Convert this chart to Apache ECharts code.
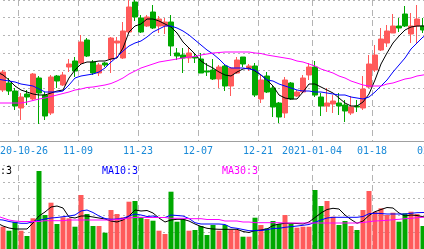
<!DOCTYPE html>
<html><head><meta charset="utf-8">
<script src="https://cdn.jsdelivr.net/npm/echarts/dist/echarts.min.js"></script>
<style>html,body{margin:0;padding:0;background:#fff;overflow:hidden;width:424px;height:249px;position:relative}
#c{position:absolute;left:-12px;top:0;width:450px;height:249px}</style>
</head><body><div id="c"></div><script>
const dates = [
'2020-10-19','2020-10-20','2020-10-21','2020-10-22','2020-10-23','2020-10-26','2020-10-27','2020-10-28','2020-10-29','2020-10-30',
'2020-11-02','2020-11-03','2020-11-04','2020-11-05','2020-11-06','2020-11-09','2020-11-10','2020-11-11','2020-11-12','2020-11-13',
'2020-11-16','2020-11-17','2020-11-18','2020-11-19','2020-11-20','2020-11-23','2020-11-24','2020-11-25','2020-11-26','2020-11-27','2020-11-30',
'2020-12-01','2020-12-02','2020-12-03','2020-12-04','2020-12-07','2020-12-08','2020-12-09','2020-12-10','2020-12-11',
'2020-12-14','2020-12-15','2020-12-16','2020-12-17','2020-12-18','2020-12-21','2020-12-22','2020-12-23','2020-12-24','2020-12-25',
'2020-12-28','2020-12-29','2020-12-30','2020-12-31',
'2021-01-04','2021-01-05','2021-01-06','2021-01-07','2021-01-08','2021-01-11','2021-01-12','2021-01-13','2021-01-14','2021-01-15',
'2021-01-18','2021-01-19','2021-01-20','2021-01-21','2021-01-22','2021-01-25','2021-01-26','2021-01-27','2021-01-28','2021-01-29',
'2021-02-01'];
const tickDates = ['2020-10-26','2020-11-09','2020-11-23','2020-12-07','2020-12-21','2021-01-04','2021-01-18','2021-02-01'];

const opens = [7.6,5.6,5.1,5.8,5.0,3.3,4.7,4.2,6.3,4.6,2.8,6.5,5.6,7.4,8.0,7.8,10.1,7.9,6.8,7.8,8.2,9.8,8.3,10.9,13.9,12.3,11.5,12.9,11.5,11.5,11.9,8.8,8.6,8.3,8.4,8.2,7.0,7.1,6.2,7.5,5.5,6.8,8.4,7.3,7.5,4.2,6.5,5.3,3.8,2.8,5.8,4.5,4.9,6.6,7.4,4.4,3.5,3.7,3.8,3.6,2.8,3.5,3.3,5.4,7.1,9.1,9.8,10.8,11.5,12.7,10.7,11.5,11.5,10.9,11.4];
const closes = [6.6,6.7,6.9,5.0,3.5,4.4,4.4,6.7,4.8,2.5,6.4,6.0,6.6,7.7,7.0,9.9,8.5,6.8,7.6,7.6,10.3,10.0,11.0,13.4,12.4,10.9,12.4,11.3,12.2,11.9,9.5,8.5,8.3,8.8,8.3,6.8,6.9,6.2,7.4,5.5,7.3,8.1,7.7,7.5,4.6,6.1,4.9,3.4,2.4,6.1,4.2,4.9,6.3,7.4,4.6,3.5,3.8,4.0,3.5,3.0,3.4,3.4,5.2,7.7,8.6,10.2,11.0,11.5,11.3,11.5,11.5,12.2,11.1,11.7,12.3];
const lows = [6.3,5.4,4.9,4.6,3.1,2.1,3.6,4.1,1.7,2.1,2.6,5.3,5.5,6.9,6.4,7.6,8.4,6.6,6.5,7.4,6.8,8.3,8.2,10.8,12.0,10.8,11.4,11.2,10.8,10.7,8.5,8.1,6.8,7.8,7.8,6.8,6.5,6.1,5.3,5.0,4.5,6.7,7.4,7.0,4.4,3.8,4.8,2.4,1.8,2.3,4.1,4.4,4.8,6.1,4.4,2.5,2.9,2.8,2.6,1.9,2.6,2.9,3.1,5.3,6.9,9.0,9.4,10.8,10.9,11.4,9.8,9.8,10.8,10.6,11.1];
const highs = [7.9,6.9,7.1,6.3,5.3,4.8,5.1,6.8,6.5,4.9,6.6,6.6,6.9,8.2,8.4,10.6,10.3,8.1,7.8,7.9,10.4,10.4,11.9,14.5,14.5,12.6,12.6,13.6,12.5,12.3,12.6,9.3,9.3,9.4,8.8,8.8,7.8,8.2,7.6,7.6,7.4,8.4,8.4,7.7,7.8,6.6,6.9,5.5,3.9,6.4,5.9,5.1,6.6,7.8,8.0,4.8,5.3,4.6,4.8,4.1,4.5,4.1,6.5,8.6,9.6,11.3,11.6,12.7,12.3,13.5,12.8,13.6,12.3,12.1,12.6];

const ma5 = [7.1,6.9,6.6,6.1,5.5,5.1,4.9,4.7,4.6,4.6,4.8,5.0,5.1,6.3,7.1,7.7,7.9,7.9,8.0,8.0,8.2,8.3,9.3,10.9,11.5,11.7,12.2,12.2,12.0,11.7,11.4,10.8,9.9,9.3,8.7,8.0,7.6,7.3,6.9,6.6,6.5,6.9,7.2,7.3,7.0,6.6,6.1,5.5,4.6,4.3,4.2,4.2,4.9,5.7,5.7,5.4,5.1,4.8,4.3,3.8,3.5,3.5,3.9,4.7,6.1,7.7,8.8,9.8,10.5,11.1,11.4,11.5,11.5,11.4,11.3];
const ma10 = [6.2,6.2,6.1,6.0,5.9,5.7,5.6,5.5,5.2,4.9,4.9,4.9,5.0,5.6,6.3,6.5,6.6,6.7,6.9,7.3,7.9,8.4,9.0,9.5,9.8,10.0,10.4,10.9,11.2,11.5,11.5,11.3,11.0,10.6,10.1,9.6,9.1,8.7,8.2,7.6,7.3,7.3,7.3,7.2,7.1,6.6,6.1,6.0,5.7,5.5,5.3,5.1,5.0,5.0,4.9,4.9,4.8,4.7,4.6,4.6,4.4,4.3,4.2,4.4,4.9,5.5,6.1,6.9,7.6,8.3,9.2,9.8,10.4,10.7,10.9];
const ma30 = [3.8,3.8,3.8,3.8,3.8,3.8,3.9,4.05,4.2,4.3,4.45,4.6,4.75,4.9,5.1,5.2,5.35,5.4,5.5,5.6,5.75,6.0,6.3,6.7,7.0,7.3,7.5,7.7,7.9,8.0,8.1,8.2,8.3,8.4,8.45,8.6,8.7,8.8,8.85,8.9,8.9,8.9,8.9,8.9,8.8,8.75,8.6,8.5,8.4,8.3,8.2,8.0,7.9,7.7,7.5,7.2,7.0,6.8,6.5,6.3,6.0,5.8,5.6,5.5,5.5,5.5,5.7,5.8,6.0,6.2,6.3,6.5,6.6,6.7,6.8];

const volumes = [290,270,223,183,273,183,130,307,780,340,463,250,317,307,223,540,350,230,230,163,390,350,317,473,480,317,300,283,183,150,573,273,297,183,190,230,140,240,183,240,190,190,123,123,313,240,207,280,250,340,250,213,223,223,590,430,480,323,240,280,230,190,390,580,373,407,340,363,273,357,373,350,230,290,340];
const volMa5 = [270,260,230,210,200,200,200,260,330,370,420,430,410,320,310,330,330,320,310,300,280,270,290,330,390,380,385,360,310,270,290,297,297,280,250,225,207,200,197,197,197,197,175,165,185,190,200,235,250,257,257,255,250,270,315,360,395,407,400,340,295,257,280,335,373,395,415,410,360,330,340,335,323,320,320];
const volMa10 = [300,295,290,275,265,257,257,273,287,300,310,315,323,330,340,380,390,365,330,305,297,300,307,330,350,340,325,330,315,315,340,335,330,305,263,250,250,250,250,245,215,207,195,183,183,185,193,205,207,217,223,230,237,245,267,290,310,317,317,317,317,317,325,353,357,355,350,350,350,350,357,363,365,365,365];
const volMa30 = [340,330,310,290,280,275,275,275,275,283,283,283,283,290,290,290,290,290,290,290,290,295,300,310,315,317,315,315,315,315,307,307,307,303,303,303,295,295,295,280,280,280,270,270,263,263,263,263,263,260,260,260,260,260,260,260,260,260,260,260,260,260,265,273,280,283,287,293,297,303,307,313,317,320,320];

const UP = '#ff5a5a', DOWN = '#00a800';
const isTick = (i, v) => tickDates.indexOf(v) >= 0;
function fmt(v) {
  const t = tickDates.indexOf(v);
  if (t < 0) return '';
  if (t === 0 || tickDates[t - 1].slice(0, 4) !== v.slice(0, 4)) return v;
  return v.slice(5);
}
const kData = dates.map((d, i) => [opens[i], closes[i], lows[i], highs[i]]);
const volData = volumes.map((v, i) => ({ value: v, itemStyle: { color: closes[i] >= opens[i] ? UP : DOWN } }));

const vSplit = { show: true, interval: isTick, lineStyle: { color: '#b4b4b4', width: 1, type: [6, 4] } };
const hSplit = { show: true, lineStyle: { color: '#b4b4b4', width: 1, type: [2, 3] } };
const mono = 'DejaVu Sans Mono';
const OFF = 12; // chart div is shifted 12px left of the window

const chart = echarts.init(document.getElementById('c'), null, { renderer: 'canvas' });
chart.setOption({
  animation: false,
  backgroundColor: '#fff',
  grid: [
    { left: 0, right: 0, top: 0, height: 141, outerBoundsMode: 'none', containLabel: false },
    { left: 0, right: 0, top: 165, height: 84, outerBoundsMode: 'none', containLabel: false }
  ],
  xAxis: [
    { type: 'category', gridIndex: 0, data: dates, boundaryGap: true,
      axisLine: { lineStyle: { color: '#a0a0a0' } }, axisTick: { show: false },
      axisLabel: { interval: isTick, formatter: fmt, color: '#1a8ad8', fontFamily: mono, fontSize: 10, margin: 5, padding: [0, 6, 0, 0] },
      splitLine: vSplit },
    { type: 'category', gridIndex: 1, data: dates, boundaryGap: true, position: 'top',
      axisLine: { lineStyle: { color: '#a0a0a0' } }, axisTick: { show: false },
      axisLabel: { show: false, interval: isTick }, splitLine: vSplit }
  ],
  yAxis: [
    { type: 'value', gridIndex: 0, min: 0, max: 14.1, interval: 1.7625,
      axisLine: { show: false }, axisTick: { show: false }, axisLabel: { show: false }, splitLine: hSplit },
    { type: 'value', gridIndex: 1, min: 0, max: 840, interval: 168,
      axisLine: { show: false }, axisTick: { show: false }, axisLabel: { show: false }, splitLine: hSplit }
  ],
  graphic: [
    { type: 'text', x: OFF - 18, y: 166, style: { text: 'MA5:3', fill: '#000', font: '10px "DejaVu Sans Mono"', textVerticalAlign: 'top' } },
    { type: 'text', x: OFF + 102, y: 166, style: { text: 'MA10:3', fill: '#0000ff', font: '10px "DejaVu Sans Mono"', textVerticalAlign: 'top' } },
    { type: 'text', x: OFF + 222, y: 166, style: { text: 'MA30:3', fill: '#ff00ff', font: '10px "DejaVu Sans Mono"', textVerticalAlign: 'top' } }
  ],
  series: [
    { type: 'candlestick', xAxisIndex: 0, yAxisIndex: 0, data: kData, barWidth: 5,
      itemStyle: { color: UP, color0: DOWN, borderColor: UP, borderColor0: DOWN, borderWidth: 1 } },
    { type: 'line', xAxisIndex: 0, yAxisIndex: 0, data: ma5, showSymbol: false, lineStyle: { color: '#000', width: 1 }, z: 5 },
    { type: 'line', xAxisIndex: 0, yAxisIndex: 0, data: ma10, showSymbol: false, lineStyle: { color: '#0000ff', width: 1 }, z: 5 },
    { type: 'line', xAxisIndex: 0, yAxisIndex: 0, data: ma30, showSymbol: false, lineStyle: { color: '#ff00ff', width: 1 }, z: 5 },
    { type: 'bar', xAxisIndex: 1, yAxisIndex: 1, data: volData, barWidth: 5 },
    { type: 'line', xAxisIndex: 1, yAxisIndex: 1, data: volMa5, showSymbol: false, lineStyle: { color: '#000', width: 1 }, z: 5 },
    { type: 'line', xAxisIndex: 1, yAxisIndex: 1, data: volMa10, showSymbol: false, lineStyle: { color: '#0000ff', width: 1 }, z: 5 },
    { type: 'line', xAxisIndex: 1, yAxisIndex: 1, data: volMa30, showSymbol: false, lineStyle: { color: '#ff00ff', width: 1 }, z: 5 }
  ]
});
</script></body></html>
